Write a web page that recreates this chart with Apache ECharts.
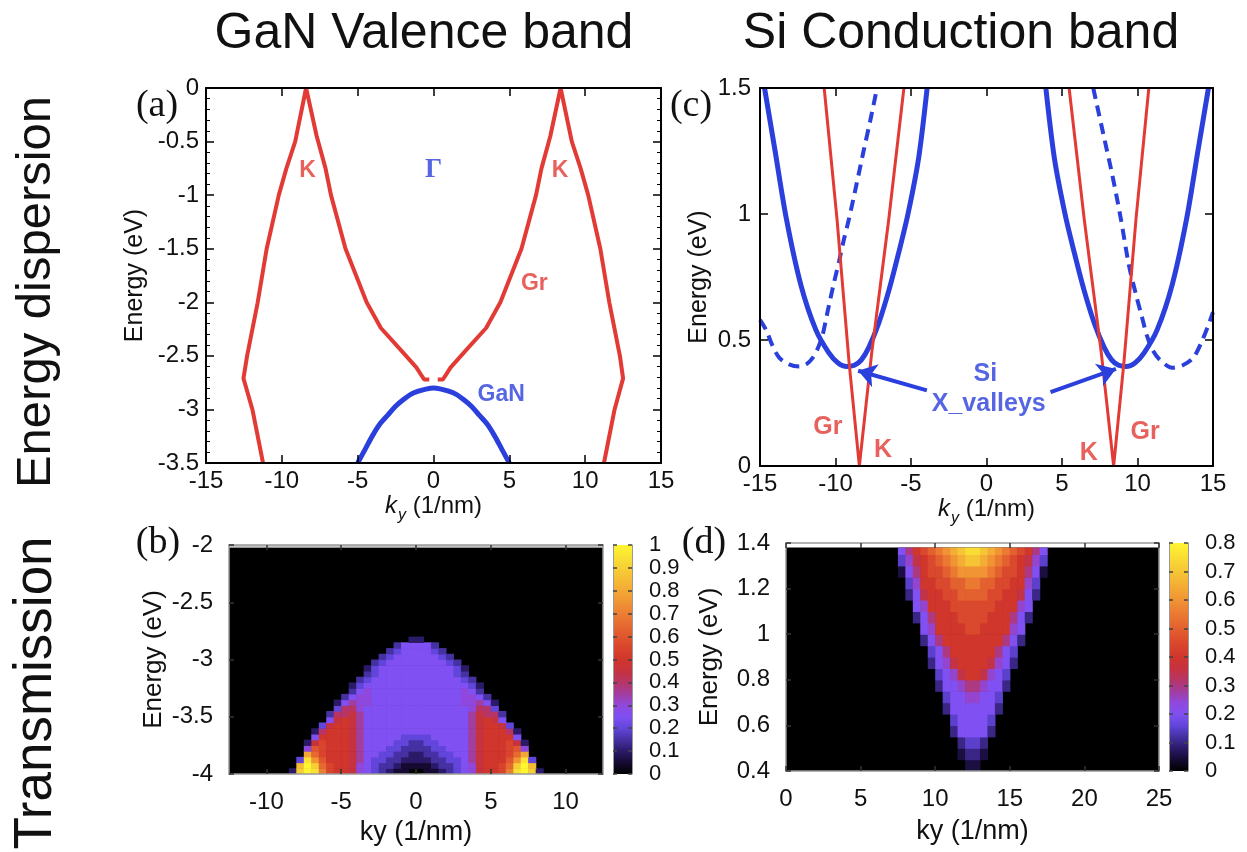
<!DOCTYPE html>
<html>
<head>
<meta charset="utf-8">
<script src="https://cdn.jsdelivr.net/npm/echarts@6/dist/echarts.min.js"></script>
<style>
html,body{margin:0;padding:0;background:#fff;}
#chart{width:1247px;height:852px;}
</style>
</head>
<body>
<div id="chart"></div>
<script>
// ================= DATA =================
// (a) GaN valence band: graphene bands (Gr, red) and GaN band (blue); points are [ky (1/nm), E (eV)]
const grA_left = [[-11.24,-3.5],[-11.94,-3.0],[-12.53,-2.71],[-12.29,-2.5],[-11.59,-2.0],[-11.0,-1.5],[-10.2,-1.0],[-9.7,-0.75],[-9.12,-0.5],[-8.4,0],[-7.7,-0.45],[-7.12,-0.75],[-6.76,-1.0],[-5.8,-1.5],[-4.41,-2.0],[-3.47,-2.24],[-2.06,-2.46],[-1.12,-2.61],[-0.76,-2.69],[-0.62,-2.72],[-0.28,-2.72]];
const grA_right = [[11.24,-3.5],[11.94,-3.0],[12.5,-2.71],[12.29,-2.5],[11.59,-2.0],[11.0,-1.5],[10.2,-1.0],[9.7,-0.75],[9.12,-0.5],[8.38,0],[7.7,-0.45],[7.12,-0.75],[6.76,-1.0],[5.8,-1.5],[4.41,-2.0],[3.47,-2.24],[2.06,-2.46],[1.12,-2.61],[0.76,-2.69],[0.62,-2.72],[0.28,-2.72]];
const ganA = [[-5,-3.5],[-4.5,-3.37],[-4,-3.24],[-3.5,-3.13],[-3,-3.05],[-2.5,-2.97],[-2,-2.91],[-1.5,-2.86],[-1,-2.83],[-0.5,-2.81],[0,-2.8],[0.5,-2.81],[1,-2.83],[1.5,-2.86],[2,-2.91],[2.5,-2.97],[3,-3.05],[3.5,-3.13],[4,-3.24],[4.5,-3.37],[5,-3.5]];
const labelsA_red = [['K',-8.3,-0.77],['K',8.34,-0.77],['Gr',6.65,-1.83]];
const labelsA_blue = [['GaN',4.46,-2.86]];
const labelsA_gamma = [['Γ',0.0,-0.77]];

// (c) Si conduction band: graphene cones (red), Si X valleys (blue solid / dashed)
const grC_left = [[-10.75,1.5],[-9.9,0.98],[-9.1,0.41],[-8.42,0],[-7.6,0.45],[-6.47,0.98],[-5.47,1.5]];
const grC_right = [[5.47,1.5],[6.47,0.98],[7.6,0.45],[8.42,0],[9.1,0.41],[9.9,0.98],[10.75,1.5]];
const siC_left = [[-14.7,1.5],[-14.0,1.25],[-13.25,0.98],[-12.3,0.72],[-11.3,0.54],[-10.45,0.45],[-9.85,0.41],[-9.25,0.395],[-8.75,0.4],[-8.3,0.42],[-7.8,0.47],[-7.15,0.565],[-6.45,0.7],[-5.8,0.85],[-5.2,1.0],[-4.5,1.22],[-3.93,1.5]];
const siC_right = [[3.93,1.5],[4.5,1.22],[5.2,1.0],[5.8,0.85],[6.45,0.7],[7.15,0.565],[7.8,0.47],[8.3,0.42],[8.75,0.4],[9.25,0.395],[9.85,0.41],[10.45,0.45],[11.3,0.54],[12.3,0.72],[13.25,0.98],[14.0,1.25],[14.7,1.5]];
const siDashC_left = [[-15,0.58],[-14.6,0.54],[-14.16,0.476],[-13.73,0.43],[-13.07,0.403],[-12.4,0.395],[-11.9,0.405],[-11.5,0.43],[-11.2,0.463],[-10.87,0.516],[-10.54,0.608],[-10.1,0.728],[-9.77,0.81],[-9.44,0.9],[-9.11,0.98],[-8.6,1.12],[-8.14,1.25],[-7.7,1.37],[-7.25,1.5]];
const siDashC_right = [[7.07,1.5],[7.25,1.45],[7.8,1.3],[8.33,1.155],[8.9,0.98],[9.42,0.8],[9.9,0.68],[10.3,0.59],[10.62,0.518],[11.0,0.46],[11.5,0.42],[12.3,0.39],[13.0,0.4],[13.7,0.43],[14.3,0.5],[14.7,0.56],[15,0.61]];
const arrowsC = [[[-3.95,0.30],[-8.5,0.378]],[[4.24,0.293],[8.57,0.385]]];
const labelsC_red = [['Gr',-10.5,0.155],['K',-6.85,0.063],['K',6.77,0.053],['Gr',10.5,0.133]];
const labelsC_blue = [['Si',-0.08,0.365],['X_valleys',0.15,0.246]];

// tick values
const bKyTicks = [-10,-5,0,5,10];

// (b) transmission map, GaN side. Cell centres in ky; each row: [E low, E high, first cell index, codes]
// code character index in CODES / 20 = transmission value
const CODES = '0123456789ABCDEFGHIJK';
const bKy = [-8.25,-7.75,-7.25,-6.75,-6.25,-5.75,-5.25,-4.75,-4.25,-3.75,-3.25,-2.75,-2.25,-1.75,-1.25,-0.75,-0.25,0.25,0.75,1.25,1.75,2.25,2.75,3.25,3.75,4.25,4.75,5.25,5.75,6.25,6.75,7.25,7.75,8.25];
const bRows = [
  [-4.00,-3.95,0,'2IKJEBAA96'+'543211'+'00'+'112345'+'69AABEJKI2'],
  [-3.95,-3.90,0,'0HKIDBAA96'+'54332'+'1111'+'23345'+'69AABDIKH0'],
  [-3.90,-3.85,0,'04JFCAAA97'+'54433'+'2222'+'33445'+'79AAACFJ40'],
  [-3.85,-3.80,0,'00GDBAAA97'+'5544'+'332233'+'4455'+'79AAABDG00'],
  [-3.80,-3.75,0,'006CBAAA97'+'555'+'44'+'3333'+'44'+'555'+'79AAABC600'],
  [-3.75,-3.70,0,'00'+'29BAAA97'+'5555'+'443344'+'5555'+'79AAAB92'+'00'],
  [-3.70,-3.65,3,'5AAAA97'+'55555'+'4444'+'55555'+'79AAAA5'],
  [-3.65,-3.60,3,'28AAA975'+'555555555555'+'579AAA82'],
  [-3.60,-3.55,4,'49AA975'+'555555555555'+'579AA94'],
  [-3.55,-3.50,5,'59A975'+'555555555555'+'579A95'],
  [-3.50,-3.45,5,'388975'+'555555555555'+'579883'],
  [-3.45,-3.40,6,'48865'+'555555555555'+'56884'],
  [-3.40,-3.35,6,'25766'+'555555555555'+'66752'],
  [-3.35,-3.30,7,'3566'+'555555555555'+'6653'],
  [-3.30,-3.25,8,'356'+'555555555555'+'653'],
  [-3.25,-3.20,8,'245'+'555555555555'+'542'],
  [-3.20,-3.15,9,'34'+'555555555555'+'43'],
  [-3.15,-3.10,10,'34'+'5555555555'+'43'],
  [-3.10,-3.05,10,'24'+'5555555555'+'42'],
  [-3.05,-3.00,11,'34'+'55555555'+'43'],
  [-3.00,-2.95,12,'34'+'555555'+'43'],
  [-2.95,-2.90,13,'34'+'5555'+'43'],
  [-2.90,-2.85,14,'3'+'5555'+'3'],
  [-2.85,-2.80,16,'22']
];
const bDomain = [-12.5,-4,12.5,-2.025];

// (d) transmission map, Si side
const dKy = [7.25,7.75,8.25,8.75,9.25,9.75,10.25,10.75,11.25,11.75,12.25,12.75,13.25,13.75,14.25,14.75,15.25,15.75,16.25,16.75,17.25,17.75];
const dRows = [
  [0.40,0.45,10,'11'],
  [0.45,0.50,9,'1221'],
  [0.50,0.55,9,'2332'],
  [0.55,0.60,8,'244442'],
  [0.60,0.65,8,'344443'],
  [0.65,0.70,7,'24444442'],
  [0.70,0.75,7,'34455443'],
  [0.75,0.80,6,'2445665442'],
  [0.80,0.85,6,'3457887543'],
  [0.85,0.90,5,'245788887542'],
  [0.90,0.95,5,'346888888643'],
  [0.95,1.00,4,'24688888888642'],
  [1.00,1.05,4,'45888899888854'],
  [1.05,1.10,3,'2468889999888642'],
  [1.10,1.15,3,'4588899999988854'],
  [1.15,1.20,2,'2478899AAAA9988742'],
  [1.20,1.25,2,'358899AABBAA998853'],
  [1.25,1.30,1,'146899ABCCCCBA998641'],
  [1.30,1.35,1,'35789ABCDEEDCBA98753'],
  [1.35,1.38,1,'4689ABCDEFFEDCBA9864']
];
const dDomain = [0,0.4,25,1.38];

// colour palette of the colour bars (from 0 to max, evenly spaced)
const palette = ['#000000','#160a32','#2b1a68','#4631a2','#6245da','#8050f2','#9048dc','#a33d9e','#b73566','#c6323e','#d0362c','#d8442c','#e0562e','#e66a30','#ec7e33','#f09434','#f3a835','#f5bc35','#f7cf35','#fae234','#fff533'];

// ================= BUILD =================
const FONT = "'Liberation Sans', Arial, Helvetica, sans-serif";
const SERIF = "'Liberation Serif', 'Times New Roman', serif";
const RED = '#e23b35', BLUE = '#2a3fdc';

function buildCells(ky, rows) {
  const out = [];
  rows.forEach(r => {
    const lo = r[0], hi = r[1], start = r[2], codes = r[3];
    for (let j = 0; j < codes.length; j++) {
      const x = ky[start + j];
      if (x === undefined) continue;
      const v = CODES.indexOf(codes[j]) / 20;
      if (v <= 0) continue;
      out.push([x, lo, hi, v]);
    }
  });
  return out;
}
const bCells = buildCells(bKy, bRows);
const dCells = buildCells(dKy, dRows);

function cellRenderer(halfW) {
  return function (params, api) {
    const x = api.value(0), lo = api.value(1), hi = api.value(2);
    const a = api.coord([x - halfW, hi]);
    const b = api.coord([x + halfW, lo]);
    return {type: 'rect', shape: {x: a[0], y: a[1], width: b[0] - a[0] + 0.6, height: b[1] - a[1] + 0.6},
            style: {fill: api.visual('color')}};
  };
}
function boxRenderer(fillFn) {
  return function (params, api) {
    const a = api.coord([api.value(0), api.value(3)]);
    const b = api.coord([api.value(2), api.value(1)]);
    return {type: 'rect', shape: {x: a[0], y: a[1], width: b[0] - a[0], height: b[1] - a[1]},
            style: {fill: fillFn()}};
  };
}
const gradient = () => new echarts.graphic.LinearGradient(0, 1, 0, 0,
  palette.map((c, i) => ({offset: i / (palette.length - 1), color: c})));

function axis(o) {
  const ax = {
    type: 'value', gridIndex: o.grid, min: o.min, max: o.max, position: o.position, z: 10,
    axisLine: {show: o.line !== false, onZero: false, lineStyle: {color: o.lineColor || '#000', width: o.lineWidth || 2}},
    axisTick: {show: true, inside: true, length: o.tickLen || 8, lineStyle: {color: o.tickColor || '#000', width: 1.5}},
    axisLabel: {show: !!o.labels, fontSize: o.fontSize || 24, color: '#111', fontFamily: FONT, margin: o.margin || 8},
    splitLine: {show: false},
    minorTick: o.minor ? {show: true, splitNumber: o.minor, length: 4, lineStyle: {color: '#000', width: 1}} : {show: false}
  };
  if (o.interval !== undefined) ax.interval = o.interval;
  if (o.custom) { ax.axisTick.customValues = o.custom; ax.axisLabel.customValues = o.custom; }
  if (o.hidden) { ax.show = false; }
  if (o.name) {
    ax.name = o.name; ax.nameLocation = 'middle'; ax.nameGap = o.nameGap;
    if (o.nameRotate !== undefined) ax.nameRotate = o.nameRotate;
    ax.nameTextStyle = {fontFamily: FONT, fontSize: o.nameSize || 24, color: '#111', rich: o.rich};
  }
  return ax;
}
const kyRich = {
  i: {fontStyle: 'italic', fontSize: 24, fontFamily: FONT, verticalAlign: 'top', color: '#111'},
  s: {fontStyle: 'italic', fontSize: 16, fontFamily: FONT, verticalAlign: 'top', padding: [14, 0, 0, 1], color: '#111'},
  t: {fontSize: 24, fontFamily: FONT, verticalAlign: 'top', color: '#111'}
};

const grid = [
  {left: 206, top: 88, width: 455, height: 375},   // 0 (a)
  {left: 760, top: 88, width: 453, height: 378},   // 1 (c)
  {left: 229, top: 545, width: 374, height: 229, show: true, backgroundColor: '#c4c4c4', borderWidth: 0},   // 2 (b)
  {left: 613, top: 545, width: 19, height: 229},   // 3 colorbar (b)
  {left: 786, top: 543, width: 373, height: 228, show: true, backgroundColor: '#ffffff', borderWidth: 0},   // 4 (d)
  {left: 1169, top: 543, width: 19, height: 228}   // 5 colorbar (d)
];

const xAxis = [
  axis({grid: 0, min: -15, max: 15, interval: 5, labels: true, margin: 6, name: '{i|k}{s|y}{t| (1/nm)}', nameGap: 29, rich: kyRich}),
  axis({grid: 0, min: -15, max: 15, interval: 5, position: 'top'}),
  axis({grid: 1, min: -15, max: 15, interval: 5, labels: true, margin: 6, name: '{i|k}{s|y}{t| (1/nm)}', nameGap: 29, rich: kyRich}),
  axis({grid: 1, min: -15, max: 15, interval: 5, position: 'top'}),
  axis({grid: 2, min: -12.5, max: 12.5, custom: bKyTicks, labels: true, fontSize: 24, margin: 16, lineColor: '#999', lineWidth: 1.5, tickColor: '#333', tickLen: 5, name: 'ky (1/nm)', nameGap: 45, nameSize: 27}),
  axis({grid: 2, min: -12.5, max: 12.5, custom: bKyTicks, position: 'top', lineColor: '#999', lineWidth: 1.5, tickColor: '#333', tickLen: 5}),
  axis({grid: 3, min: 0, max: 1, hidden: true}),
  axis({grid: 4, min: 0, max: 25, interval: 5, labels: true, fontSize: 24, margin: 16, lineColor: '#999', lineWidth: 1.5, tickColor: '#333', tickLen: 5, name: 'ky (1/nm)', nameGap: 47, nameSize: 27}),
  axis({grid: 4, min: 0, max: 25, interval: 5, position: 'top', lineColor: '#999', lineWidth: 1.5, tickColor: '#333', tickLen: 5}),
  axis({grid: 5, min: 0, max: 1, hidden: true})
];
const yAxis = [
  axis({grid: 0, min: -3.5, max: 0, interval: 0.5, labels: true, minor: 5, margin: 7, name: 'Energy (eV)', nameGap: 58, nameRotate: 90, nameSize: 25}),
  axis({grid: 0, min: -3.5, max: 0, interval: 0.5, minor: 5, position: 'right'}),
  axis({grid: 1, min: 0, max: 1.5, interval: 0.5, labels: true, margin: 9, name: 'Energy (eV)', nameGap: 48, nameRotate: 90, nameSize: 25}),
  axis({grid: 1, min: 0, max: 1.5, interval: 0.5, position: 'right'}),
  axis({grid: 2, min: -4, max: -2, interval: 0.5, labels: true, fontSize: 24, margin: 16, lineColor: '#999', lineWidth: 1.5, tickColor: '#333', tickLen: 5, name: 'Energy (eV)', nameGap: 62, nameRotate: 90, nameSize: 26}),
  axis({grid: 2, min: -4, max: -2, interval: 0.5, position: 'right', lineColor: '#999', lineWidth: 1.5, tickColor: '#333', tickLen: 5}),
  axis({grid: 3, min: 0, max: 1, interval: 0.1, labels: true, fontSize: 22, margin: 17, position: 'right', lineColor: '#999', lineWidth: 1, tickColor: '#444', tickLen: 4}),
  axis({grid: 3, min: 0, max: 1, interval: 0.1, position: 'left', lineColor: '#999', lineWidth: 1, tickColor: '#444', tickLen: 4}),
  axis({grid: 4, min: 0.4, max: 1.4, interval: 0.2, labels: true, fontSize: 24, margin: 16, lineColor: '#999', lineWidth: 1.5, tickColor: '#333', tickLen: 5, name: 'Energy (eV)', nameGap: 63, nameRotate: 90, nameSize: 26}),
  axis({grid: 4, min: 0.4, max: 1.4, interval: 0.2, position: 'right', lineColor: '#999', lineWidth: 1.5, tickColor: '#333', tickLen: 5}),
  axis({grid: 5, min: 0, max: 0.8, interval: 0.1, labels: true, fontSize: 22, margin: 17, position: 'right', lineColor: '#999', lineWidth: 1, tickColor: '#444', tickLen: 4}),
  axis({grid: 5, min: 0, max: 0.8, interval: 0.1, position: 'left', lineColor: '#999', lineWidth: 1, tickColor: '#444', tickLen: 4})
];

const series = [];
function line(xi, yi, data, color, width, opts) {
  series.push(Object.assign({type: 'line', xAxisIndex: xi, yAxisIndex: yi, data: data, showSymbol: false, symbol: 'none',
    lineStyle: {color: color, width: width}, clip: true, silent: true, z: 3}, opts || {}));
}
function labels(xi, yi, items, color, size, family) {
  series.push({type: 'scatter', xAxisIndex: xi, yAxisIndex: yi, symbolSize: 1, itemStyle: {color: 'rgba(0,0,0,0)'},
    data: items.map(d => ({name: d[0], value: [d[1], d[2]]})), silent: true, z: 6,
    label: {show: true, position: 'inside', formatter: '{b}', color: color, fontSize: size, fontWeight: 'bold', fontFamily: family || FONT}});
}
// (a)
line(0, 0, grA_left, RED, 4);
line(0, 0, grA_right, RED, 4);
line(0, 0, ganA, BLUE, 5, {smooth: 0.3});
labels(0, 0, labelsA_red, RED, 23);
labels(0, 0, labelsA_blue, BLUE, 23);
labels(0, 0, labelsA_gamma, BLUE, 27, SERIF);
// (c)
line(2, 2, siDashC_left, BLUE, 4, {smooth: 0.3, lineStyle: {color: BLUE, width: 4, type: [11, 7]}});
line(2, 2, siDashC_right, BLUE, 4, {smooth: 0.3, lineStyle: {color: BLUE, width: 4, type: [11, 7]}});
line(2, 2, siC_left, BLUE, 5, {smooth: 0.3});
line(2, 2, siC_right, BLUE, 5, {smooth: 0.3});
line(2, 2, grC_left, RED, 3);
line(2, 2, grC_right, RED, 3);
series.push({type: 'lines', coordinateSystem: 'cartesian2d', xAxisIndex: 2, yAxisIndex: 2, silent: true, z: 5,
  symbol: ['none', 'arrow'], symbolSize: 18, lineStyle: {color: BLUE, width: 4, opacity: 1, curveness: 0},
  data: arrowsC.map(c => ({coords: c}))});
labels(2, 2, labelsC_red, RED, 25);
labels(2, 2, labelsC_blue, BLUE, 25);
// (b)
series.push({type: 'custom', xAxisIndex: 4, yAxisIndex: 4, data: [bDomain], encode: {x: [0, 2], y: [1, 3]},
  renderItem: boxRenderer(() => '#000'), silent: true, z: 1});
const bIdx = series.length;
series.push({type: 'custom', xAxisIndex: 4, yAxisIndex: 4, data: bCells, encode: {x: 0, y: [1, 2]},
  renderItem: cellRenderer((bKy[1] - bKy[0]) / 2), silent: true, z: 2, clip: true});
series.push({type: 'custom', xAxisIndex: 6, yAxisIndex: 6, data: [[0, 0, 1, 1]], encode: {x: [0, 2], y: [1, 3]},
  renderItem: boxRenderer(gradient), silent: true, z: 1});
// (d)
series.push({type: 'custom', xAxisIndex: 7, yAxisIndex: 8, data: [dDomain], encode: {x: [0, 2], y: [1, 3]},
  renderItem: boxRenderer(() => '#000'), silent: true, z: 1});
const dIdx = series.length;
series.push({type: 'custom', xAxisIndex: 7, yAxisIndex: 8, data: dCells, encode: {x: 0, y: [1, 2]},
  renderItem: cellRenderer((dKy[1] - dKy[0]) / 2), silent: true, z: 2, clip: true});
series.push({type: 'custom', xAxisIndex: 9, yAxisIndex: 10, data: [[0, 0, 1, 0.8]], encode: {x: [0, 2], y: [1, 3]},
  renderItem: boxRenderer(gradient), silent: true, z: 1});

function txt(text, x, y, size, opts) {
  const o = Object.assign({family: FONT, weight: 'normal', rotation: 0, color: '#111'}, opts || {});
  return {type: 'text', x: x, y: y, rotation: o.rotation, silent: true, z: 20,
    style: {text: text, fontSize: size, fontFamily: o.family, fontWeight: o.weight, fill: o.color,
      align: 'center', verticalAlign: 'middle', textAlign: 'center', textVerticalAlign: 'middle'}};
}
const graphic = [
  txt('GaN Valence band', 424, 34, 50),
  txt('Si Conduction band', 961, 34, 50),
  txt('Energy dispersion', 36, 292, 49, {rotation: Math.PI / 2}),
  txt('Transmission', 36, 693, 53, {rotation: Math.PI / 2}),
  txt('(a)', 157, 106, 38, {family: SERIF}),
  txt('(c)', 691, 106, 38, {family: SERIF}),
  txt('(b)', 158, 543, 38, {family: SERIF}),
  txt('(d)', 704, 543, 38, {family: SERIF})
];

const chart = echarts.init(document.getElementById('chart'), null, {renderer: 'canvas', width: 1247, height: 852});
chart.setOption({
  animation: false,
  backgroundColor: '#ffffff',
  grid: grid, xAxis: xAxis, yAxis: yAxis, series: series, graphic: graphic,
  visualMap: [
    {type: 'continuous', show: false, min: 0, max: 1, dimension: 3, seriesIndex: bIdx, inRange: {color: palette}},
    {type: 'continuous', show: false, min: 0, max: 0.8, dimension: 3, seriesIndex: dIdx, inRange: {color: palette}}
  ]
});
</script>
</body>
</html>
